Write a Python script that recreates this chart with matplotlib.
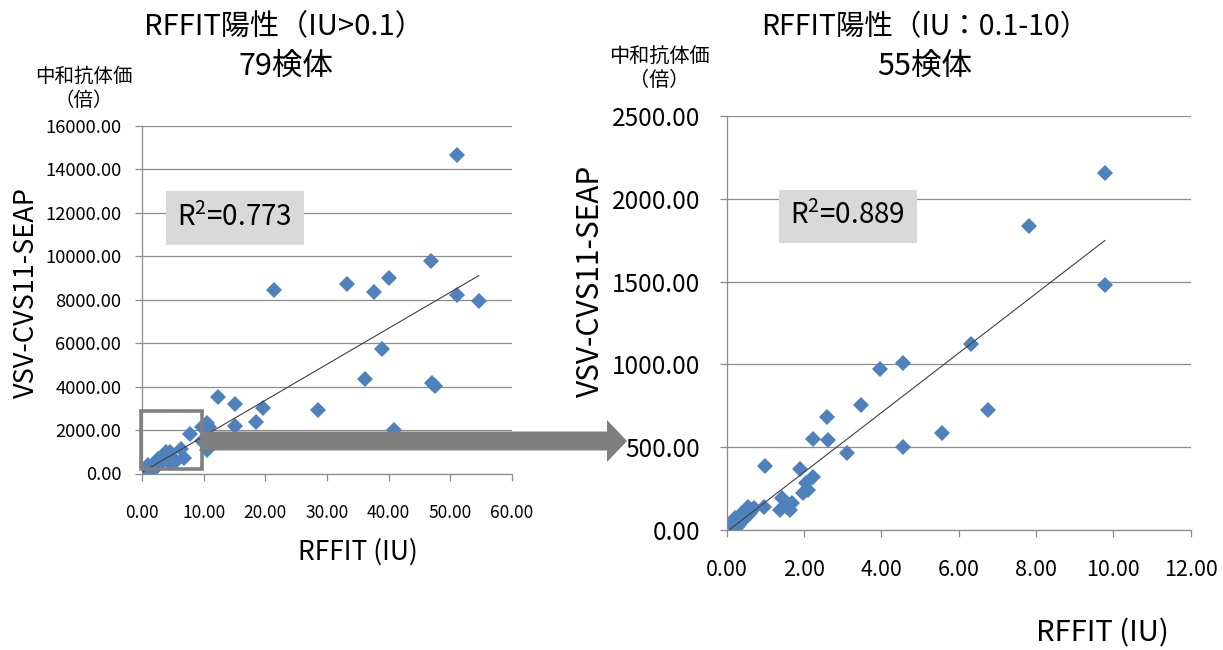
import matplotlib
matplotlib.use("Agg")
import matplotlib.pyplot as plt
import numpy as np
from matplotlib.patches import FancyArrow, Rectangle

plt.rcParams["font.family"] = ["Noto Sans CJK JP", "DejaVu Sans"]
plt.rcParams["mathtext.fontset"] = "custom"
plt.rcParams["mathtext.rm"] = "Noto Sans CJK JP"

# samples with RFFIT 0.1-10 IU (55)
low_x = [9.78, 7.83, 9.78, 6.31, 4.57, 3.97, 3.47, 6.75, 2.59, 5.57,
         2.22, 2.63, 4.55, 3.10, 0.99, 1.90, 2.22, 2.05, 1.98, 2.10,
         1.42, 1.38, 1.64, 1.68, 0.97, 1.55,
         0.56, 0.60, 0.50, 0.45, 0.40, 0.35, 0.30, 0.22, 0.34, 0.28,
         0.20, 0.15, 0.12, 0.10, 0.09, 0.18, 0.25, 0.42, 0.48, 0.65,
         0.70, 0.55, 0.38, 0.32, 0.14, 0.11, 0.16, 0.26, 0.60]
low_y = [2157, 1838, 1480, 1126, 1007, 975, 754, 726, 683, 584,
         550, 542, 501, 465, 384, 367, 318, 285, 225, 240,
         191, 121, 121, 161, 141, 140,
         141, 101, 110, 90, 80, 70, 60, 70, 50, 40,
         30, 20, 15, 10, 5, 45, 55, 60, 75, 120,
         130, 90, 95, 30, 8, 25, 50, 20, 115]

# remaining samples above 10 IU (24), shown only in the left panel
high_x = [51.1, 46.8, 21.4, 33.3, 37.6, 40.0, 51.1, 54.6, 38.9, 36.2,
          47.0, 47.5, 28.6, 19.7, 12.3, 15.1, 18.5, 15.1, 40.9, 10.5,
          10.8, 10.5, 11.0, 10.2]
high_y = [14660, 9790, 8460, 8720, 8350, 9020, 8230, 7950, 5750, 4370,
          4150, 4050, 2910, 3000, 3540, 3190, 2360, 2190, 2000, 2310,
          2150, 1080, 1300, 1500]

all_x = low_x + high_x
all_y = low_y + high_y

r2_all = r"$\mathregular{R^2}$=0.773"
r2_low = r"$\mathregular{R^2}$=0.889"

BLUE = "#4F81BD"
GRID = "#8c8c8c"
ARROW_GREY = "#7f7f7f"

W, H = 1223, 650
fig = plt.figure(figsize=(W / 100, H / 100), dpi=100)


def style_axes(ax, xsize, ysize, pad_x, pad_y):
    ax.grid(axis="y", color=GRID, linewidth=0.9)
    ax.set_axisbelow(True)
    for side in ("top", "right"):
        ax.spines[side].set_visible(False)
    for side in ("left", "bottom"):
        ax.spines[side].set_color(GRID)
        ax.spines[side].set_linewidth(0.9)
    ax.tick_params(axis="both", direction="out", color=GRID, length=5, width=0.9)
    ax.tick_params(axis="x", pad=pad_x, labelsize=xsize)
    ax.tick_params(axis="y", pad=pad_y, labelsize=ysize)
    ax.yaxis.set_major_formatter(matplotlib.ticker.StrMethodFormatter("{x:.2f}"))
    ax.xaxis.set_major_formatter(matplotlib.ticker.StrMethodFormatter("{x:.2f}"))


def trend(ax, xs, ys):
    xs = np.asarray(xs, float)
    ys = np.asarray(ys, float)
    slope, icpt = np.polyfit(xs, ys, 1)
    xx = np.array([xs.min(), xs.max()])
    ax.plot(xx, slope * xx + icpt, color="#404040", linewidth=0.8, zorder=3)


# left panel: all 79 samples
ax1 = fig.add_axes([142 / W, 1 - 473.5 / H, 370 / W, 347.5 / H])
ax1.plot(all_x, all_y, linestyle="none", marker="D", markersize=8.2,
         color=BLUE, markeredgewidth=0, zorder=2)
trend(ax1, all_x, all_y)
ax1.set_xlim(0, 60)
ax1.set_ylim(0, 16000)
ax1.set_xticks(np.arange(0, 61, 10))
ax1.set_yticks(np.arange(0, 16001, 2000))
style_axes(ax1, 12.5, 13.2, 17, 10)
ax1.text(0.251, 0.735, r2_all, transform=ax1.transAxes, fontsize=20,
         ha="center", va="center",
         bbox=dict(boxstyle="square,pad=0.42", facecolor="#d9d9d9", edgecolor="none"))
ax1.add_patch(Rectangle((-0.15, 200), 9.95, 2680, fill=False,
                        edgecolor="#808080", linewidth=2.6, clip_on=False, zorder=5))

# right panel: 0.1-10 IU
ax2 = fig.add_axes([726.7 / W, 1 - 530 / H, 464 / W, 414 / H])
ax2.plot(low_x, low_y, linestyle="none", marker="D", markersize=8.4,
         color=BLUE, markeredgewidth=0, zorder=2)
trend(ax2, low_x, low_y)
ax2.set_xlim(0, 12)
ax2.set_ylim(0, 2500)
ax2.set_xticks(np.arange(0, 12.1, 2))
ax2.set_yticks(np.arange(0, 2501, 500))
style_axes(ax2, 15.5, 17.5, 16, 14)
ax2.text(0.261, 0.758, r2_low, transform=ax2.transAxes, fontsize=20,
         ha="center", va="center",
         bbox=dict(boxstyle="square,pad=0.42", facecolor="#d9d9d9", edgecolor="none"))

# big grey arrow from the zoom box to the right panel
fig.add_artist(FancyArrow(203 / W, 1 - 441 / H, 404 / W, 0,
                          width=19 / H, head_width=42 / H, head_length=20 / W,
                          length_includes_head=False, transform=fig.transFigure,
                          facecolor=ARROW_GREY, edgecolor="none", zorder=6))

# titles and labels
fig.text(284 / W, 1 - 27 / H, "RFFIT陽性（IU>0.1）", fontsize=21, ha="center", va="center")
fig.text(286 / W, 1 - 66 / H, "79検体", fontsize=22, ha="center", va="center")
fig.text(925 / W, 1 - 27 / H, "RFFIT陽性（IU：0.1-10）", fontsize=20.5, ha="center", va="center")
fig.text(925 / W, 1 - 66 / H, "55検体", fontsize=22, ha="center", va="center")

fig.text(84 / W, 1 - 76 / H, "中和抗体価", fontsize=14, ha="center", va="center")
fig.text(84 / W, 1 - 101 / H, "（倍）", fontsize=14, ha="center", va="center")
fig.text(659 / W, 1 - 57 / H, "中和抗体価", fontsize=14.5, ha="center", va="center")
fig.text(659 / W, 1 - 81 / H, "（倍）", fontsize=14.5, ha="center", va="center")

fig.text(26 / W, 1 - 292 / H, "VSV-CVS11-SEAP", fontsize=19.5, rotation=90,
         ha="center", va="center")
fig.text(590 / W, 1 - 281 / H, "VSV-CVS11-SEAP", fontsize=21.5, rotation=90,
         ha="center", va="center")
fig.text(358 / W, 1 - 552 / H, "RFFIT (IU)", fontsize=19, ha="center", va="center")
fig.text(1102 / W, 1 - 633 / H, "RFFIT (IU)", fontsize=21, ha="center", va="center")

fig.savefig("out.png", dpi=100)
